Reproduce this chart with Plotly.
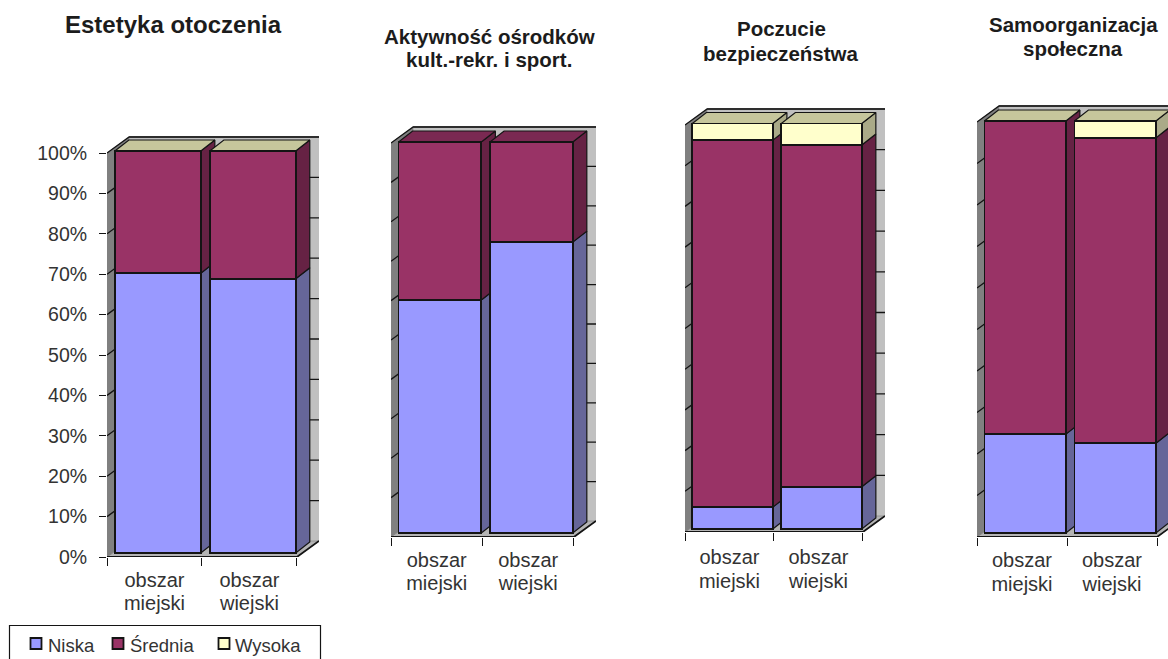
import plotly.graph_objects as go

# ---------- data ----------
cat_line1 = ["obszar", "obszar"]
cat_line2 = ["miejski", "wiejski"]
series_names = ["Niska", "Średnia", "Wysoka"]
panel_titles = [
    "Estetyka otoczenia",
    "Aktywność ośrodków\nkult.-rekr. i sport.",
    "Poczucie\nbezpieczeństwa",
    "Samoorganizacja\nspołeczna",
]
niska = [[69.6, 68.2], [59.6, 74.4], [5.4, 10.4], [24.0, 21.8]]
srednia = [[30.4, 31.8], [40.4, 25.6], [90.5, 84.3], [76.0, 74.1]]
wysoka = [[0, 0], [None, None], [4.1, 5.3], [0, 4.1]]
y_ticks = [0, 10, 20, 30, 40, 50, 60, 70, 80, 90, 100]

# ---------- style / layout ----------
W, H = 1168, 659
FONT = "Liberation Sans"
TXT = "#333333"
front = ["#9999FF", "#993366", "#FFFFCC"]
side = ["#666699", "#662244", "#AAAA88"]
top = ["#7070B0", "#7A2952", "#C6C69C"]
EDGE = "#141414"
# left, right of axis; y pixel of 0 and 100; bar bottom and top pixel; category label offsets
geom = [
    dict(L=107, R=296, Y0=557, Y100=153, B0=553, B100=151, labels=True, s1=9, s2=32),
    dict(L=391, R=573, Y0=537, Y100=143, B0=533, B100=142, labels=False, s1=9, s2=32),
    dict(L=685, R=862, Y0=532, Y100=125, B0=529, B100=123.5, labels=False, s1=11, s2=35),
    dict(L=977, R=1157, Y0=537, Y100=122, B0=533, B100=121, labels=False, s1=9, s2=33),
]
BACK_DX, BACK_DY = 22, 16   # wall depth, px
BAR_DX, BAR_DY = 14, 11     # bar depth, px
BAR_SHIFT, BAR_W = 0.035, 0.905
title_pos = [
    (173.5, [25], 24),
    (489, [36, 59], 20.5),
    (781, [29, 53], 20.5),
    (1073, [25, 48], 20.5),
]

fig = go.Figure()
layout = dict(
    width=W, height=H, margin=dict(l=0, r=0, t=0, b=0), paper_bgcolor="white",
    plot_bgcolor="rgba(0,0,0,0)", barmode="stack", showlegend=False,
    autosize=False, font=dict(family=FONT, color=TXT),
)
annotations, shapes = [], []

def poly(xs, ys, fill, xa, ya, line=EDGE, lw=1.2):
    fig.add_trace(go.Scatter(
        x=xs, y=ys, mode="lines", fill="toself", fillcolor=fill,
        line=dict(color=line, width=lw), xaxis=xa, yaxis=ya, hoverinfo="skip"))

for p, g in enumerate(geom):
    n_a, n_b = 2 * p + 1, 2 * p + 2
    xa, ya = f"x{n_a}", f"y{n_a}"
    xb, yb = f"x{n_b}", f"y{n_b}"
    px_cat = (g["R"] - g["L"]) / 2
    px_pct = (g["Y0"] - g["Y100"]) / 100
    right_px = g["R"] + BACK_DX
    x_top = (min(right_px, W) - g["L"]) / px_cat
    back_dx = BACK_DX / px_cat
    back_dy = BACK_DY / px_pct
    y_top = 100 + (BACK_DY + 2) / px_pct
    bdx = BAR_DX / px_cat
    bdy = BAR_DY / px_pct
    lift = (g["Y0"] - g["B0"]) / px_pct
    squash = (g["B0"] - g["B100"]) / (g["Y0"] - g["Y100"])
    to_a = lambda v: lift + v * squash

    x_dom = [g["L"] / W, min(right_px + 1, W) / W]
    y_dom = [1 - g["Y0"] / H, 1 - (g["Y100"] - BACK_DY - 2) / H]

    layout[f"xaxis{n_a}"] = dict(
        domain=x_dom, range=[0, x_top], anchor=ya, showgrid=False, zeroline=False,
        automargin=False,
        tickmode="array", tickvals=[0.5, 1.5], ticktext=cat_line1,
        ticks="", ticklabelstandoff=g["s1"],
        tickfont=dict(family=FONT, size=20, color=TXT),
        minor=dict(tickmode="array", tickvals=[0, 1, 2], ticks="outside", ticklen=8,
                   tickcolor=EDGE, tickwidth=1.2, showgrid=False),
    )
    layout[f"yaxis{n_a}"] = dict(
        domain=y_dom, range=[0, y_top], anchor=xa, showgrid=False, zeroline=False,
        automargin=False,
        tickmode="array", tickvals=y_ticks,
        ticktext=[f"{t}%" for t in y_ticks] if g["labels"] else [""] * len(y_ticks),
        ticks="outside" if g["labels"] else "", ticklen=7, tickcolor=EDGE, tickwidth=1.2,
        ticklabelstandoff=8,
        tickfont=dict(family=FONT, size=19.5, color=TXT),
    )
    layout[f"xaxis{n_b}"] = dict(
        domain=x_dom, range=[0, x_top], anchor=yb, automargin=False,
        overlaying=f"x{n_a}", showgrid=False, zeroline=False, showline=False,
        tickmode="array", tickvals=[0.5, 1.5], ticktext=cat_line2, ticks="",
        ticklabelstandoff=g["s2"], tickfont=dict(family=FONT, size=20, color=TXT),
    )
    layout[f"yaxis{n_b}"] = dict(domain=y_dom, anchor=xb, overlaying=f"y{n_a}", visible=False,
                                 automargin=False,
                                 range=[(0 - lift) / squash, (y_top - lift) / squash])

    # walls
    poly([back_dx, x_top + 1, x_top + 1, back_dx, back_dx],
         [back_dy, back_dy, 100 + back_dy, 100 + back_dy, back_dy],
         "#C0C0C0", xa, ya, line="#C0C0C0", lw=0.5)
    fig.add_trace(go.Scatter(x=[back_dx, 2 + back_dx], y=[100 + back_dy] * 2, mode="lines",
                             line=dict(color="#7c7c7c", width=2), xaxis=xa, yaxis=ya,
                             hoverinfo="skip"))
    poly([0, back_dx, 2 + back_dx, 2, 0], [0, back_dy, back_dy, 0, 0],
         "#B4B4B4", xa, ya, line="#8a8a8a", lw=0.8)
    poly([0, 0, back_dx, back_dx, 0], [0, 100, 100 + back_dy, back_dy, 0],
         "#808080", xa, ya, line="#808080", lw=0.5)
    # gridlines, hidden by the bars except on the walls
    gx, gy = [], []
    for t in y_ticks[1:]:
        gx += [0, back_dx, 2 + back_dx, None]
        gy += [t, t + back_dy, t + back_dy, None]
    fig.add_trace(go.Scatter(x=gx, y=gy, mode="lines", line=dict(color=EDGE, width=1.3),
                             xaxis=xa, yaxis=ya, hoverinfo="skip"))
    # floor front edges
    fig.add_trace(go.Scatter(x=[0, 2, 2 + back_dx], y=[0, 0, back_dy], mode="lines",
                             line=dict(color=EDGE, width=1.8), xaxis=xa, yaxis=ya,
                             hoverinfo="skip"))

    # bar side and top faces
    stacks = [niska[p], srednia[p], wysoka[p]]
    for c in range(2):
        x0 = c + 0.5 + BAR_SHIFT - BAR_W / 2
        x1 = x0 + BAR_W
        base = 0.0
        last = 0
        for s in range(3):
            v = stacks[s][c]
            if v is None:
                continue
            last = s
            if v > 0:
                lo, hi = to_a(base), to_a(base + v)
                poly([x1, x1 + bdx, x1 + bdx, x1, x1], [lo, lo + bdy, hi + bdy, hi, lo],
                     side[s], xa, ya)
                base += v
        hi = to_a(base)
        poly([x0, x0 + bdx, x1 + bdx, x1, x0], [hi, hi + bdy, hi + bdy, hi, hi],
             top[last], xa, ya)

    # bar fronts (real stacked bars on the overlaying axes)
    bar_x = [i + 0.5 + BAR_SHIFT for i in range(2)]
    for s in range(3):
        if all(v is None for v in stacks[s]):
            continue
        fig.add_trace(go.Bar(
            x=bar_x, y=stacks[s], width=BAR_W, name=series_names[s],
            marker=dict(color=front[s], line=dict(color=EDGE, width=1.8)),
            xaxis=xb, yaxis=yb, offsetgroup="a",
            hovertemplate=series_names[s] + ": %{y}%<extra></extra>"))

    # title
    cx, ys, size = title_pos[p]
    for line, yy in zip(panel_titles[p].split("\n"), ys):
        annotations.append(dict(
            text=f"<b>{line}</b>", x=cx / W, y=1 - yy / H, xref="paper", yref="paper",
            showarrow=False, xanchor="center", yanchor="middle",
            font=dict(family=FONT, size=size, color="#1c1c1c")))

# legend box, open at the bottom where it runs off the picture
def px(x): return x / W
def py(y): return 1 - y / H
shapes.append(dict(type="path", xref="paper", yref="paper",
                   path=f"M {px(9.5)} 0 L {px(9.5)} {py(625.5)} L {px(320.5)} {py(625.5)} L {px(320.5)} 0",
                   line=dict(color=EDGE, width=1.2)))
for s, (sx, tx) in enumerate([(30, 46), (112, 128), (218, 233)]):
    shapes.append(dict(type="rect", xref="paper", yref="paper", x0=px(sx + .5), x1=px(sx + 11.5),
                       y0=py(649), y1=py(638), line=dict(color=EDGE, width=1.8), fillcolor=front[s]))
    annotations.append(dict(text=series_names[s], x=px(tx), y=py(645), xref="paper", yref="paper",
                            showarrow=False, xanchor="left", yanchor="middle",
                            font=dict(family=FONT, size=18.5, color=TXT)))

layout["annotations"] = annotations
layout["shapes"] = shapes
fig.update_layout(**layout)
fig.write_html("out.html", config=dict(displayModeBar=False),
               post_script="document.body.style.margin='0';document.body.style.overflow='hidden';")
